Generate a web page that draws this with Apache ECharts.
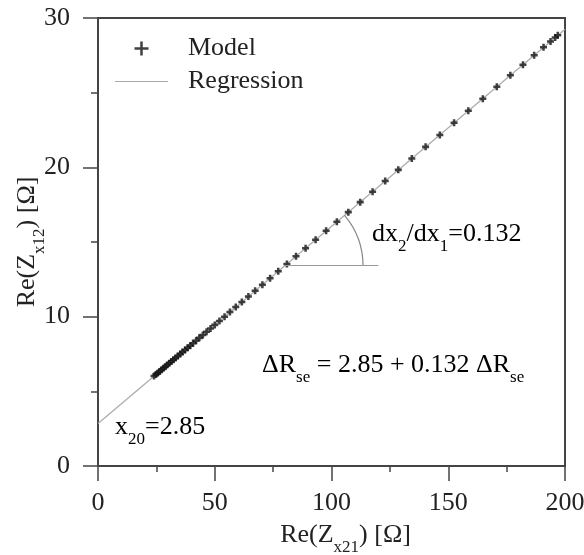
<!DOCTYPE html>
<html>
<head>
<meta charset="utf-8">
<script src="https://cdn.jsdelivr.net/npm/echarts@6/dist/echarts.min.js"></script>
<style>
  html, body { margin: 0; padding: 0; background: #fff; }
  #chart { width: 584px; height: 555px; }
</style>
</head>
<body>
<div id="chart"></div>
<script>
// model points
const modelX = [24.0, 24.8, 25.6, 26.4, 27.2, 28.0, 28.8, 29.6, 30.5, 31.4, 32.3, 33.2, 34.2, 35.2, 36.2,
  37.3, 38.4, 39.5, 40.7, 42.0, 43.4, 44.9, 46.5, 48.2, 50.0, 52.0, 54.2, 56.5, 59.0, 61.6,
  64.4, 67.3, 70.4, 73.7, 77.2, 80.9, 84.8, 88.9, 93.2, 97.7, 102.3, 107.2, 112.3, 117.6, 123.0,
  128.6, 134.4, 140.3, 146.4, 152.5, 158.6, 164.8, 170.8, 176.6, 182.0, 186.8, 190.8, 193.8, 195.8, 196.9];
const modelY = [6.02, 6.12, 6.23, 6.33, 6.44, 6.55, 6.65, 6.76, 6.88, 7.00, 7.11, 7.23, 7.36, 7.50, 7.63,
  7.77, 7.92, 8.06, 8.22, 8.39, 8.58, 8.78, 8.99, 9.21, 9.45, 9.71, 10.00, 10.31, 10.64, 10.98,
  11.35, 11.73, 12.14, 12.58, 13.04, 13.53, 14.04, 14.58, 15.15, 15.75, 16.35, 17.00, 17.67, 18.37, 19.09,
  19.83, 20.59, 21.37, 22.17, 22.98, 23.79, 24.60, 25.40, 26.16, 26.87, 27.51, 28.04, 28.43, 28.70, 28.84];

// regression line end points
const regX = [0, 200];
const regY = [2.85, 29.25];

// slope annotation (data coords)
const angleVertex = [80, 13.41];
const angleLineEnd = [120, 13.41];
const arcReachX = 113.5;

const FONT = "'Liberation Serif', 'DejaVu Serif', serif";
const INK = '#222';
const AXIS = '#444';

const PLUS = 'path://M3.2,0H6.8V3.2H10V6.8H6.8V10H3.2V6.8H0V3.2H3.2Z';
const PLUS_THIN = 'path://M4.1,0H5.9V4.1H10V5.9H5.9V10H4.1V5.9H0V4.1H4.1Z';
const DASH = 'path://M0,0H53V1.2H0Z';

const rich = {
  m: { fontSize: 26, fontFamily: FONT, color: INK, lineHeight: 32, verticalAlign: 'top' },
  s: { fontSize: 17, fontFamily: FONT, color: INK, lineHeight: 17, padding: [17, 0, 0, 0], verticalAlign: 'top' }
};

const chart = echarts.init(document.getElementById('chart'));

chart.setOption({
  animation: false,
  backgroundColor: '#fff',
  grid: {
    left: 98, right: 19, top: 18, bottom: 89, outerBoundsMode: 'none', containLabel: false,
    show: true, borderColor: AXIS, borderWidth: 2, backgroundColor: 'transparent'
  },
  legend: {
    left: 115, top: 33, orient: 'vertical', padding: 0,
    itemWidth: 53, itemHeight: 14, itemGap: 2,
    textStyle: { fontFamily: FONT, fontSize: 26, color: INK, padding: [0, 0, 0, 15], lineHeight: 31 },
    data: [
      { name: 'Model', icon: PLUS_THIN, itemStyle: { color: '#111' } },
      { name: 'Regression', icon: DASH, itemStyle: { color: '#aaa' } }
    ]
  },
  xAxis: {
    type: 'value', min: 0, max: 200, interval: 50,
    name: '{m|Re(Z}{s|x21}{m|) [Ω]}',
    nameLocation: 'middle', nameGap: 56, nameMoveOverlap: false,
    nameTextStyle: { rich, padding: [0, 0, 0, 28] },
    axisLine: { lineStyle: { color: AXIS, width: 2 } },
    axisTick: { inside: false, length: 15, lineStyle: { color: AXIS, width: 1.5 } },
    minorTick: { show: true, splitNumber: 2, length: 6, lineStyle: { color: AXIS, width: 1.5 } },
    axisLabel: { fontFamily: FONT, fontSize: 26, color: INK, margin: 24 },
    splitLine: { show: false }
  },
  yAxis: {
    type: 'value', min: 0, max: 30, interval: 10,
    name: '{m|Re(Z}{s|x12}{m|) [Ω]}',
    nameLocation: 'middle', nameGap: 52, nameMoveOverlap: false,
    nameTextStyle: { rich },
    axisLine: { lineStyle: { color: AXIS, width: 2 } },
    axisTick: { inside: false, length: 15, lineStyle: { color: AXIS, width: 1.5 } },
    minorTick: { show: true, splitNumber: 2, length: 7, lineStyle: { color: AXIS, width: 1.5 } },
    axisLabel: { fontFamily: FONT, fontSize: 26, color: INK, margin: 28 },
    splitLine: { show: false }
  },
  series: [
    {
      name: 'Regression', type: 'line', z: 1,
      data: regX.map((x, i) => [x, regY[i]]),
      symbol: 'none', color: '#aaa',
      lineStyle: { color: '#aaa', width: 1.2 },
      markLine: {
        silent: true, symbol: ['none', 'none'], label: { show: false },
        lineStyle: { color: '#999', width: 1.2, type: 'solid' },
        data: [[{ coord: angleVertex }, { coord: angleLineEnd }]]
      }
    },
    {
      name: 'Model', type: 'scatter', z: 3,
      data: modelX.map((x, i) => [x, modelY[i]]),
      symbol: PLUS, symbolSize: 7,
      itemStyle: { color: '#111' }
    }
  ]
});

// arc of the slope angle + text notes
const v = chart.convertToPixel({ gridIndex: 0 }, angleVertex);
const r = chart.convertToPixel({ gridIndex: 0 }, [arcReachX, angleVertex[1]])[0] - v[0];
const p0 = chart.convertToPixel({ gridIndex: 0 }, [regX[0], regY[0]]);
const p1 = chart.convertToPixel({ gridIndex: 0 }, [regX[1], regY[1]]);
const theta = Math.atan2(p0[1] - p1[1], p1[0] - p0[0]);

chart.setOption({
  graphic: [
    {
      type: 'arc', silent: true, z: 2,
      shape: { cx: v[0], cy: v[1], r: r, startAngle: -theta, endAngle: 0, clockwise: true },
      style: { stroke: '#888', lineWidth: 1.2, fill: null }
    },
    { type: 'text', left: 372, top: 221, style: { text: '{m|dx}{s|2}{m|/dx}{s|1}{m|=0.132}', rich } },
    { type: 'text', left: 262, top: 352, style: { text: '{m|ΔR}{s|se}{m| = 2.85 + 0.132 ΔR}{s|se}', rich } },
    { type: 'text', left: 115, top: 414, style: { text: '{m|x}{s|20}{m|=2.85}', rich } }
  ]
});
</script>
</body>
</html>
